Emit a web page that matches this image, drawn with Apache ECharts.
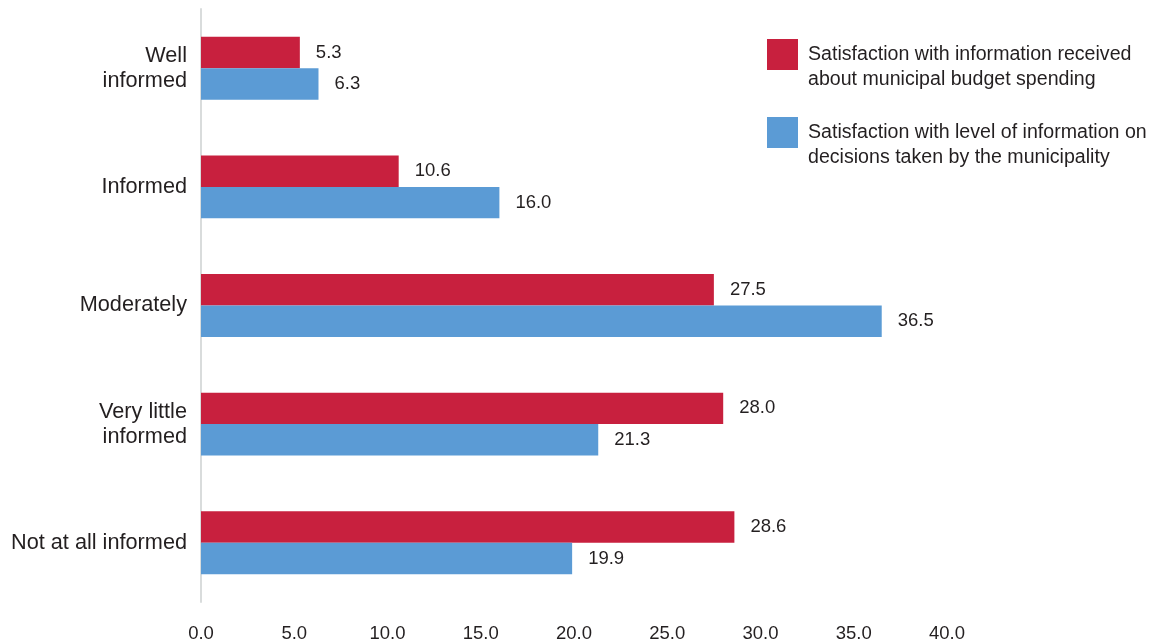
<!DOCTYPE html>
<html>
<head>
<meta charset="utf-8">
<script src="https://cdn.jsdelivr.net/npm/echarts@6/dist/echarts.min.js"></script>
<style>
  html, body { margin: 0; padding: 0; background: #ffffff; }
  #chart { width: 1156px; height: 642px; }
</style>
</head>
<body>
<div id="chart"></div>
<script>
// Categories, listed top to bottom
const categories = ['Well\ninformed', 'Informed', 'Moderately', 'Very little\ninformed', 'Not at all informed'];

// Series names
const budgetName = 'Satisfaction with information received\nabout municipal budget spending';
const decisionsName = 'Satisfaction with level of information on\ndecisions taken by the municipality';

// Values (%)
const budgetValues = [5.3, 10.6, 27.5, 28.0, 28.6];
const decisionsValues = [6.3, 16.0, 36.5, 21.3, 19.9];

// Value axis range
const axisMin = 0;
const axisMax = 40;
const axisStep = 5;

const FONT = '"Liberation Sans Narrow", "Arial Narrow", "Liberation Sans", Arial, sans-serif';
const TEXT = '#231f20';

const chart = echarts.init(document.getElementById('chart'), null, { renderer: 'canvas' });

const valueLabel = {
  show: true,
  position: 'right',
  distance: 16,
  color: TEXT,
  fontFamily: FONT,
  fontSize: 18.5,
  formatter: p => p.value.toFixed(1)
};

chart.setOption({
  animation: false,
  backgroundColor: '#ffffff',
  textStyle: { fontFamily: FONT },
  grid: { left: 201, right: 209, top: 9, bottom: 40, containLabel: false, outerBoundsMode: 'none' },
  legend: {
    orient: 'vertical',
    left: 762,
    top: 12,
    itemWidth: 31,
    itemHeight: 31,
    itemGap: 3,
    icon: 'rect',
    // a blank leading line drops the two-line text below the swatch centre
    formatter: name => '{gap| }\n' + name,
    textStyle: {
      color: TEXT,
      fontFamily: FONT,
      fontSize: 19.6,
      lineHeight: 25,
      padding: [0, 0, 0, 5],
      rich: {
        gap: { fontSize: 10, lineHeight: 25 }
      }
    },
    data: [budgetName, decisionsName]
  },
  xAxis: {
    type: 'value',
    min: axisMin,
    max: axisMax,
    interval: axisStep,
    axisLine: { show: false },
    axisTick: { show: false },
    splitLine: { show: false },
    axisLabel: {
      color: TEXT,
      fontFamily: FONT,
      fontSize: 18.5,
      margin: 22,
      formatter: v => v.toFixed(1)
    }
  },
  yAxis: {
    type: 'category',
    inverse: true,
    data: categories,
    axisLine: { show: true, lineStyle: { color: '#d9dcdc', width: 2 } },
    axisTick: { show: false },
    axisLabel: {
      color: TEXT,
      fontFamily: FONT,
      fontSize: 21.7,
      lineHeight: 25,
      margin: 14,
      align: 'right'
    }
  },
  series: [
    {
      name: budgetName,
      type: 'bar',
      data: budgetValues,
      itemStyle: { color: '#c8203e' },
      barGap: '0%',
      barCategoryGap: '47%',
      label: valueLabel
    },
    {
      name: decisionsName,
      type: 'bar',
      data: decisionsValues,
      itemStyle: { color: '#5b9bd5' },
      label: valueLabel
    }
  ]
});
</script>
</body>
</html>
